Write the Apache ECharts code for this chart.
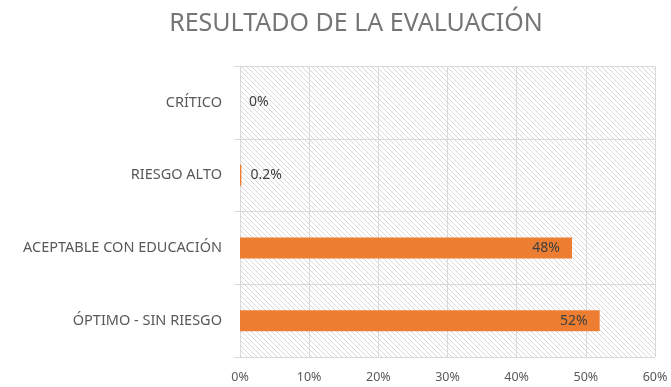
<!DOCTYPE html>
<html>
<head>
<meta charset="utf-8">
<script src="https://cdn.jsdelivr.net/npm/echarts@6/dist/echarts.min.js"></script>
<style>
  html, body { margin: 0; padding: 0; background: #ffffff; }
  #chart { width: 671px; height: 387px; }
</style>
</head>
<body>
<div id="chart"></div>
<script>
// Evaluation categories, listed top to bottom
const categories = ['CRÍTICO', 'RIESGO ALTO', 'ACEPTABLE CON EDUCACIÓN', 'ÓPTIMO - SIN RIESGO'];
// Share of results per category, in percent
const values = [0, 0.2, 48, 52];
// Value axis range and step, in percent
const axisMin = 0;
const axisMax = 60;
const axisStep = 10;

// Diagonal hatch tile used to fill the plotting area
function hatchTile() {
  const size = 10, gap = 5;
  const c = document.createElement('canvas');
  c.width = size; c.height = size;
  const ctx = c.getContext('2d');
  ctx.fillStyle = '#ffffff';
  ctx.fillRect(0, 0, size, size);
  ctx.fillStyle = '#d9d9d9';
  for (let y = 0; y < size; y++) {
    for (let x = 0; x < size; x++) {
      if (((x - y) % gap + gap) % gap === 0) ctx.fillRect(x, y, 1, 1);
    }
  }
  return c;
}

const font = '"Noto Sans", sans-serif';
const textColor = '#595959';
const chart = echarts.init(document.getElementById('chart'), null, { renderer: 'canvas' });

chart.setOption({
  animation: false,
  backgroundColor: '#ffffff',
  title: {
    text: 'RESULTADO DE LA EVALUACIÓN',
    left: 351,
    textAlign: 'center',
    top: 6,
    textStyle: { fontFamily: font, fontSize: 25, fontWeight: 'normal', color: '#757575' }
  },
  grid: {
    left: 240, right: 16, top: 66, bottom: 30,
    show: true,
    borderWidth: 0,
    backgroundColor: { image: hatchTile(), repeat: 'repeat' }
  },
  xAxis: {
    type: 'value',
    min: axisMin, max: axisMax, interval: axisStep,
    axisLine: { show: false },
    axisTick: { show: false },
    axisLabel: {
      formatter: v => v + '%',
      fontFamily: font, fontSize: 12.5, color: textColor, margin: 14
    },
    splitLine: { show: true, lineStyle: { color: '#d9d9d9', width: 1 } }
  },
  yAxis: {
    type: 'category',
    data: categories,
    inverse: true,
    axisLine: { show: true, lineStyle: { color: '#d9d9d9' } },
    axisTick: { show: true, length: 6, lineStyle: { color: '#d9d9d9' } },
    axisLabel: { fontFamily: font, fontSize: 14.5, color: textColor, margin: 18 },
    splitLine: { show: true, lineStyle: { color: '#d9d9d9', width: 1 } }
  },
  series: [{
    type: 'bar',
    data: values.map(v => ({
      value: v,
      label: v < 5
        ? { position: 'right', distance: 9 }
        : { position: 'insideRight', distance: 12 }
    })),
    barWidth: 21,
    itemStyle: { color: '#ed7d31' },
    label: {
      show: true,
      formatter: p => p.value + '%',
      fontFamily: font, fontSize: 14, color: '#404040'
    }
  }]
});
</script>
</body>
</html>
